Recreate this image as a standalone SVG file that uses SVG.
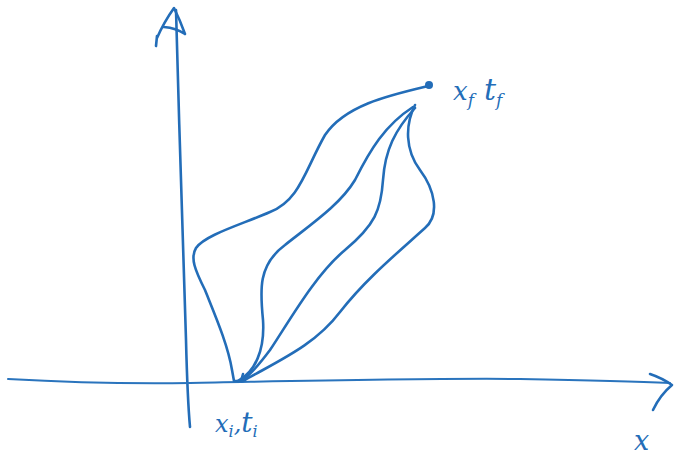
<svg xmlns="http://www.w3.org/2000/svg" width="679" height="460" viewBox="0 0 679 460">
<style>
.ink{fill:none;stroke:#236db8;stroke-width:2.6;stroke-linecap:round;stroke-linejoin:round}
.thin{fill:none;stroke:#2a74bd;stroke-width:2;stroke-linecap:round}
.lbl{fill:#236db8;font-family:"DejaVu Serif","Liberation Serif",serif;font-style:italic}
</style>
<rect width="679" height="460" fill="#ffffff"/>
<g id="axes">
<path class="ink" d="M176,10 C179,120 183,250 186,340 C187,380 188,405 190,427"/>
<path class="ink" d="M157,38 Q164,22 174,8 Q180,20 185,34 M164,27 Q176,28 185,34 M157,36 L156,46"/>
<path class="thin" d="M8,379 C60,382 120,384 190,383 C300,381 420,378 520,379 C580,380 630,381 670,383"/>
<path class="ink" d="M650,374 Q662,378 672,385 Q660,395 653,410"/>
</g>
<g id="paths">
<path class="ink" d="M428,86 C390,95 345,105 325,135 C305,170 300,200 270,212 C240,225 205,235 196,248 C190,258 195,270 205,290 C215,315 228,345 232,370 L234,381 L241,381 L243,374"/>
<path class="ink" d="M413,107 C385,125 370,150 355,180 C340,205 310,225 285,245 C258,265 260,290 263,320 C265,350 255,372 238,381"/>
<path class="ink" d="M415,108 C395,130 385,150 383,180 C381,210 375,225 345,250 C315,275 290,320 270,350 C258,366 250,375 242,381"/>
<path class="ink" d="M415,105 C405,125 405,150 420,170 C435,190 440,215 425,228 C395,255 365,280 340,312 C315,345 280,360 243,381"/>
<circle cx="429" cy="85" r="4" fill="#236db8"/>
</g>
<g id="labels">
<text class="lbl" x="453" y="100" font-size="26">x<tspan font-size="17" dy="6">f</tspan><tspan font-size="30" dy="-6" dx="10">t</tspan><tspan font-size="17" dy="6">f</tspan></text>
<text class="lbl" x="215" y="432" font-size="24">x<tspan font-size="16" dy="5">i</tspan><tspan dy="-5">,</tspan><tspan font-size="28">t</tspan><tspan font-size="16" dy="5">i</tspan></text>
<text class="lbl" x="634" y="450" font-size="27">x</text>
</g>
</svg>
